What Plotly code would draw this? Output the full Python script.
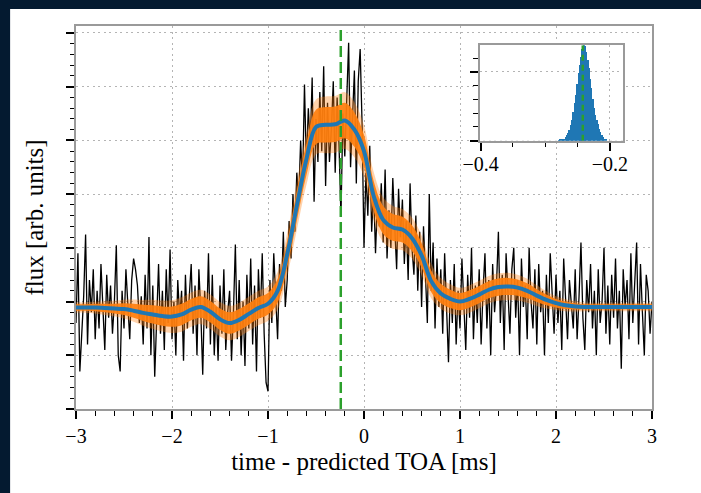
import plotly.graph_objects as go

# ---------------- data ----------------
# noisy measured profile, t = -3.00 ... 3.00 step 0.02 ms
t_start, t_step = -3.0, 0.02
flux_data = [
    1.6, 2.9, 0.7, 1.5, 2.1, 3.25, 1.2, 2.4, 1.8, 2.6,
    1.3, 2.2, 1.5, 2.7, 1.9, 1.1, 2.5, 1.7, 2.3, 1.4,
    2.0, 3.05, 1.0, 0.7, 2.2, 1.5, 2.6, 1.9, 1.3, 2.4,
    2.8, 2.6, 2.3, 1.6, 2.1, 1.2, 2.5, 1.5, 3.2, 1.0,
    2.3, 0.6, 1.9, 2.7, 1.4, 2.2, 1.1, 2.6, 1.6, 2.97,
    1.3, 2.0, 1.0, 2.4, 1.7, 2.2, 0.9, 2.5, 1.5, 2.1,
    2.7, 1.4, 2.3, 1.0, 2.6, 1.8, 0.64, 2.2, 1.5, 2.9,
    1.2, 2.5, 1.0, 1.9, 0.9, 2.3, 1.4, 2.6, 1.1, 1.8,
    2.2, 0.9, 1.8, 3.06, 1.3, 2.4, 1.0, 2.0, 0.8, 2.5,
    1.5, 2.8, 1.2, 2.3, 0.7, 2.6, 1.7, 2.9, 1.4, 0.49,
    0.33, 2.4, 1.6, 2.9, 2.0, 1.3, 2.7, 2.2, 3.3, 1.9,
    2.4, 3.5, 2.8, 4.0, 3.3, 4.4, 3.9, 5.0, 4.2, 6.04,
    4.5, 5.6, 4.9, 6.17, 3.86, 5.4, 4.6, 5.9, 4.8, 6.38,
    4.15, 5.7, 4.6, 5.2, 6.1, 4.4, 5.8, 4.9, 3.58, 5.5,
    4.7, 5.9, 6.82, 4.5, 5.6, 6.3, 4.2, 6.1, 6.7, 5.3,
    3.0, 4.4, 3.6, 4.9, 3.3, 4.1, 2.9, 3.9, 3.4, 4.2,
    3.1, 4.46, 2.8, 3.7, 3.0, 4.3, 3.4, 2.6, 4.1, 3.2,
    3.9, 2.7, 3.5, 2.4, 4.2, 3.0, 2.5, 3.6, 2.2, 3.3,
    1.9, 3.4, 2.5, 1.6, 4.0, 2.2, 3.1, 1.5, 2.8, 1.9,
    2.6, 1.4, 2.9, 1.8, 0.87, 2.4, 1.6, 2.7, 1.2, 2.2,
    1.5, 2.8, 1.9, 1.1, 2.5, 1.7, 3.0, 1.3, 2.3, 1.6,
    2.6, 1.2, 2.2, 2.9, 1.5, 2.4, 1.0, 2.7, 1.8, 2.3,
    3.3, 1.6, 2.5, 1.1, 2.9, 2.0, 1.4, 2.6, 3.0, 1.7,
    2.4, 1.0, 2.8, 1.9, 2.3, 1.3, 3.0, 2.0, 1.5, 2.6,
    1.2, 2.7, 1.8, 2.2, 1.0, 2.5, 1.6, 2.9, 2.1, 1.4,
    2.5, 1.6, 2.2, 1.1, 2.8, 1.9, 1.3, 2.4, 2.0, 1.5,
    2.6, 1.3, 2.1, 3.1, 1.7, 1.1, 2.4, 1.8, 2.7, 1.5,
    2.2, 1.0, 2.6, 1.6, 2.0, 3.0, 1.4, 2.3, 1.2, 2.5,
    1.7, 2.8, 1.5, 2.2, 0.75, 2.6, 1.9, 2.4, 1.3, 2.9,
    1.6, 2.3, 3.1, 1.2, 2.7, 1.8, 1.0, 2.5, 2.2, 1.4,
    2.0,
]
t_data = [round(t_start + i * t_step, 4) for i in range(len(flux_data))]

# model mean and spread, t = -3.0 ... 3.0 step 0.1 ms
t_model = [round(-3.0 + 0.1 * i, 2) for i in range(61)]
model_mean = [
    1.89, 1.89, 1.89, 1.88, 1.87, 1.86, 1.83, 1.79, 1.76, 1.73,
    1.72, 1.76, 1.85, 1.90, 1.81, 1.67, 1.60, 1.66, 1.77, 1.88,
    1.96, 2.20, 2.88, 3.78, 4.65, 5.25, 5.29, 5.30, 5.37, 5.20,
    4.80, 3.97, 3.52, 3.38, 3.34, 3.18, 2.86, 2.38, 2.15, 2.05,
    2.00, 2.05, 2.13, 2.22, 2.27, 2.28, 2.26, 2.20, 2.11, 2.03,
    1.97, 1.93, 1.91, 1.90, 1.90, 1.90, 1.90, 1.90, 1.90, 1.90,
    1.90,
]
model_spread = [
    0.06, 0.06, 0.07, 0.08, 0.09, 0.11, 0.13, 0.15, 0.17, 0.18,
    0.19, 0.20, 0.20, 0.20, 0.20, 0.20, 0.20, 0.20, 0.20, 0.20,
    0.20, 0.22, 0.25, 0.28, 0.30, 0.32, 0.33, 0.33, 0.33, 0.32,
    0.30, 0.28, 0.26, 0.25, 0.24, 0.24, 0.23, 0.20, 0.18, 0.17,
    0.16, 0.16, 0.16, 0.16, 0.16, 0.16, 0.15, 0.14, 0.12, 0.10,
    0.08, 0.07, 0.06, 0.05, 0.05, 0.05, 0.05, 0.05, 0.05, 0.05,
    0.05,
]
toa_estimate = -0.242

# posterior histogram of TOA (inset)
hist_centers = [
    -0.281, -0.279, -0.277, -0.275, -0.273, -0.271, -0.269, -0.267, -0.265, -0.263,
    -0.261, -0.259, -0.257, -0.255, -0.253, -0.251, -0.249, -0.247, -0.245, -0.243,
    -0.241, -0.239, -0.237, -0.235, -0.233, -0.231, -0.229, -0.227, -0.225, -0.223,
    -0.221, -0.219, -0.217, -0.215, -0.213, -0.211, -0.209, -0.207,
]
hist_counts = [
    0.0, 0.005, 0.01, 0.015, 0.02, 0.03, 0.05, 0.075, 0.11, 0.16,
    0.22, 0.30, 0.42, 0.54, 0.67, 0.82, 0.98, 1.10, 1.22, 1.33,
    1.39, 1.37, 1.29, 1.17, 1.05, 0.90, 0.76, 0.60, 0.47, 0.37,
    0.30, 0.24, 0.17, 0.12, 0.08, 0.05, 0.025, 0.01,
]

x_ticks_main = [-3, -2, -1, 0, 1, 2, 3]
x_ticks_inset = [-0.4, -0.2]

# ---------------- figure ----------------
BLUE = "#1f77b4"
ORANGE = "#ff7f0e"
GREEN = "#2ca02c"
FONT = "Liberation Serif"
Y_MAX = 7.13

fig = go.Figure()

fig.add_trace(go.Scatter(x=t_data, y=flux_data, mode="lines",
                         line=dict(color="black", width=1.3), showlegend=False))

# posterior band: soft outer haze + dense core
for factor, alpha in [(1.6, 0.35), (1.0, 0.92)]:
    up = [m + factor * s for m, s in zip(model_mean, model_spread)]
    lo = [m - factor * s for m, s in zip(model_mean, model_spread)]
    fig.add_trace(go.Scatter(x=t_model, y=up, mode="lines", line=dict(width=0, shape="spline"),
                             showlegend=False, hoverinfo="skip"))
    fig.add_trace(go.Scatter(x=t_model, y=lo, mode="lines", line=dict(width=0, shape="spline"),
                             fill="tonexty", fillcolor=f"rgba(255,127,14,{alpha})",
                             showlegend=False, hoverinfo="skip"))

fig.add_trace(go.Scatter(x=t_model, y=model_mean, mode="lines",
                         line=dict(color=BLUE, width=4, shape="spline"), showlegend=False))

fig.add_trace(go.Scatter(x=[toa_estimate, toa_estimate], y=[0, Y_MAX], mode="lines",
                         line=dict(color=GREEN, width=2.5, dash="11px,5px"), showlegend=False))

# inset
fig.add_trace(go.Bar(x=hist_centers, y=hist_counts, width=0.002, marker=dict(color=BLUE, line=dict(width=0)),
                     xaxis="x2", yaxis="y2", showlegend=False))
fig.add_trace(go.Scatter(x=[toa_estimate, toa_estimate], y=[0, 1.39], mode="lines",
                         line=dict(color=GREEN, width=2.5, dash="6px,4px"),
                         xaxis="x2", yaxis="y2", showlegend=False))

axis_common = dict(
    showline=True, linecolor="#9a9a9a", linewidth=2, mirror=True,
    ticks="outside", tickcolor="black", tickwidth=2, ticklen=8,
    showgrid=True, gridcolor="#b4b4b4", gridwidth=1.2, griddash="2px,3.5px",
    zeroline=False,
    tickfont=dict(family=FONT, size=20, color="black"),
)
minor_common = dict(ticks="outside", ticklen=4.5, tickwidth=1.3, tickcolor="black", showgrid=False)
title_font = dict(family=FONT, size=25, color="black")

fig.update_layout(
    width=701, height=493,
    margin=dict(l=76, r=49, t=26, b=84),
    paper_bgcolor="#041a30",
    plot_bgcolor="white",
    bargap=0,
    xaxis=dict(**axis_common, range=[-3, 3], tickvals=x_ticks_main,
               minor=dict(dtick=0.2, tick0=0, **minor_common),
               title=dict(text="time - predicted TOA [ms]", font=title_font, standoff=6)),
    yaxis=dict(**axis_common, range=[0, Y_MAX], dtick=1, tick0=0, showticklabels=False,
               minor=dict(dtick=0.2, tick0=0, **minor_common),
               title=dict(text="flux [arb. units]", font=title_font, standoff=15)),
    xaxis2=dict(**axis_common, domain=[0.7007, 0.950], anchor="y2", range=[-0.4015, -0.1795],
                tickvals=x_ticks_inset, ticklabelstandoff=-4,
                minor=dict(dtick=0.05, tick0=-0.4, **minor_common)),
    yaxis2=dict(**axis_common, domain=[0.7005, 0.950], anchor="x2", range=[0, 1.39], dtick=1, tick0=0,
                showticklabels=False,
                minor=dict(dtick=0.2, tick0=0, **minor_common)),
    shapes=[dict(type="rect", xref="paper", yref="paper", x0=-0.1144, x1=1.2, y0=-0.3, y1=1.0444,
                 fillcolor="white", line=dict(width=0), layer="below")],
)

fig.write_html("out.html", config={"displayModeBar": False},
               post_script="document.body.style.margin='0';document.body.style.background='white';")
